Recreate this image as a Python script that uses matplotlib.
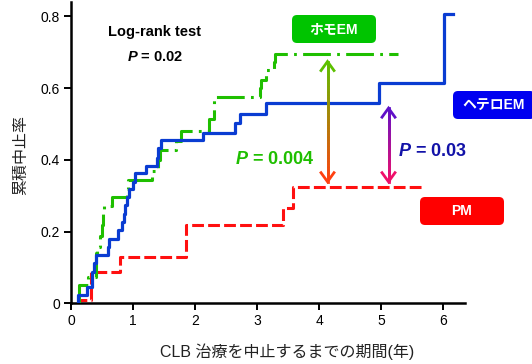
import numpy as np
import matplotlib
matplotlib.use("Agg")
import matplotlib.pyplot as plt
from matplotlib.patches import FancyBboxPatch
from matplotlib.collections import LineCollection
from matplotlib.transforms import IdentityTransform

plt.rcParams['font.family'] = ['Liberation Sans', 'Noto Sans CJK JP', 'DejaVu Sans']
plt.rcParams['lines.scale_dashes'] = False
plt.rcParams['mathtext.fontset'] = 'custom'
plt.rcParams['mathtext.it'] = 'Liberation Sans:italic:bold'
plt.rcParams['mathtext.rm'] = 'Liberation Sans:bold'

# ---- data (KM cumulative discontinuation) ----
hetero_t = [0.12, 0.12, 0.25, 0.34, 0.375, 0.40, 0.59, 0.615, 0.75, 0.83, 0.85, 0.87, 0.90, 0.94,
            1.00, 1.03, 1.21, 1.38, 1.41, 1.45, 2.13, 2.64, 2.72, 3.15, 4.97, 6.01, 6.16]
hetero_y = [0.0, 0.023, 0.046, 0.088, 0.112, 0.135, 0.158, 0.18, 0.204, 0.228, 0.25, 0.274, 0.297, 0.32,
            0.339, 0.363, 0.383, 0.405, 0.432, 0.454, 0.476, 0.502, 0.528, 0.558, 0.615, 0.807, 0.807]

homo_t = [0.12, 0.13, 0.28, 0.41, 0.42, 0.46, 0.50, 0.52, 0.53, 0.655, 0.90, 0.92, 1.30, 1.41, 1.43,
          1.70, 1.78, 2.22, 2.30, 2.31, 3.05, 3.06, 3.15, 3.27, 3.29, 5.27]
homo_y = [0.0, 0.05, 0.074, 0.14, 0.158, 0.188, 0.218, 0.25, 0.27, 0.295, 0.32, 0.344, 0.37, 0.40, 0.426,
          0.452, 0.479, 0.513, 0.545, 0.576, 0.60, 0.623, 0.65, 0.673, 0.695, 0.695]

pm_t = [0.12, 0.12, 0.32, 0.79, 1.86, 3.42, 3.57, 5.65]
pm_y = [0.0, 0.01, 0.088, 0.13, 0.218, 0.265, 0.323, 0.323]

x_ticks = [0, 1, 2, 3, 4, 5, 6]
y_ticks = [0, 0.2, 0.4, 0.6, 0.8]
y_ticklabels = ["0", "0.2", "0.4", "0.6", "0.8"]

GREEN = "#1fbf00"
BLUE = "#0a3cd2"
RED = "#ff1010"

W, H = 532, 364
fig = plt.figure(figsize=(W / 100, H / 100), dpi=100)
ax = fig.add_axes([71 / W, 1 - 303.3 / H, (465 - 71) / W, (303.3 - 2) / H])

ax.step(pm_t, pm_y, where='post', color=RED, lw=2.2, dashes=(8.5, 3), zorder=3)
ax.step(homo_t, homo_y, where='post', color=GREEN, lw=2.2, dashes=(20, 4.5, 2, 4.5), zorder=4)
ax.step(hetero_t, hetero_y, where='post', color=BLUE, lw=2.3, zorder=5)

ax.set_xlim(0, 6.35)
ax.set_ylim(0, 0.84)
ax.set_xticks(x_ticks)
ax.set_yticks(y_ticks)
ax.set_yticklabels(y_ticklabels)
for s in ['top', 'right']:
    ax.spines[s].set_visible(False)
for s in ['left', 'bottom']:
    ax.spines[s].set_linewidth(1.8)
ax.tick_params(direction='out', length=5, width=1.4, labelsize=10, colors='black', pad=3)

fig.text(287 / W, 1 - 352 / H, "CLB 治療を中止するまでの期間(年)", ha='center', va='center',
         fontsize=11.5, color='#222222')
fig.text(21 / W, 1 - 155 / H, "累積中止率", rotation=90, ha='center', va='center', fontsize=11.5,
         color='#222222')

# texts
ax.text(1.35, 0.757, "Log-rank test", ha='center', va='center', fontsize=10.5, fontweight='bold')
ax.text(1.35, 0.687, "$P$ = 0.02", ha='center', va='center', fontsize=10.5, fontweight='bold')
ax.text(3.29, 0.40, "$P$ = 0.004", ha='center', va='center', fontsize=13, fontweight='bold',
        color=GREEN)
ax.text(5.82, 0.422, "$P$ = 0.03", ha='center', va='center', fontsize=13, fontweight='bold',
        color="#1212a8")

# label boxes (pixel coordinates)
ident = IdentityTransform()
def label_box(cx, cy, w, h, color, text):
    p = FancyBboxPatch((cx - w / 2, H - cy - h / 2), w, h, boxstyle="round,pad=0,rounding_size=5",
                       transform=ident, facecolor=color, edgecolor='none', zorder=10, clip_on=False)
    fig.patches.append(p)
    fig.text(cx / W, 1 - cy / H, text, ha='center', va='center', color='white', fontsize=10,
             fontweight='bold', zorder=11)

label_box(334, 29, 84, 28, "#00c400", "ホモEM")
label_box(494, 105, 82, 28, "#0000f0", "ヘテロEM")
label_box(462, 211, 84, 28, "#ff0000", "PM")

# gradient double arrows
def grad_arrow(x, y0, y1, c_top, c_bot):
    p0 = ax.transData.transform((x, y0))
    p1 = ax.transData.transform((x, y1))
    n = 40
    ys = np.linspace(p0[1], p1[1], n + 1)
    xx = round(p0[0]) + 0.5
    segs = [[(xx, ys[i]), (xx, ys[i + 1])] for i in range(n)]
    ct = np.array(matplotlib.colors.to_rgb(c_top))
    cb = np.array(matplotlib.colors.to_rgb(c_bot))
    cols = [ct + (cb - ct) * (i + 0.5) / n for i in range(n)]
    lc = LineCollection(segs, colors=cols, linewidths=2.0, transform=ident, zorder=6,
                        capstyle='projecting')
    fig.add_artist(lc)
    hw, hl = 6.5, 9
    top, bot = max(p0[1], p1[1]), min(p0[1], p1[1])
    fig.add_artist(plt.Line2D([xx - hw, xx, xx + hw], [top - hl, top, top - hl], color=c_top, lw=2.0,
                              transform=ident, zorder=6, solid_joinstyle='miter'))
    fig.add_artist(plt.Line2D([xx - hw, xx, xx + hw], [bot + hl, bot, bot + hl], color=c_bot, lw=2.0,
                              transform=ident, zorder=6, solid_joinstyle='miter'))

grad_arrow(4.12, 0.674, 0.339, "#5cc000", "#ff4010")
grad_arrow(5.11, 0.544, 0.339, "#6010c8", "#f0106a")

fig.savefig("out.png", dpi=100)
